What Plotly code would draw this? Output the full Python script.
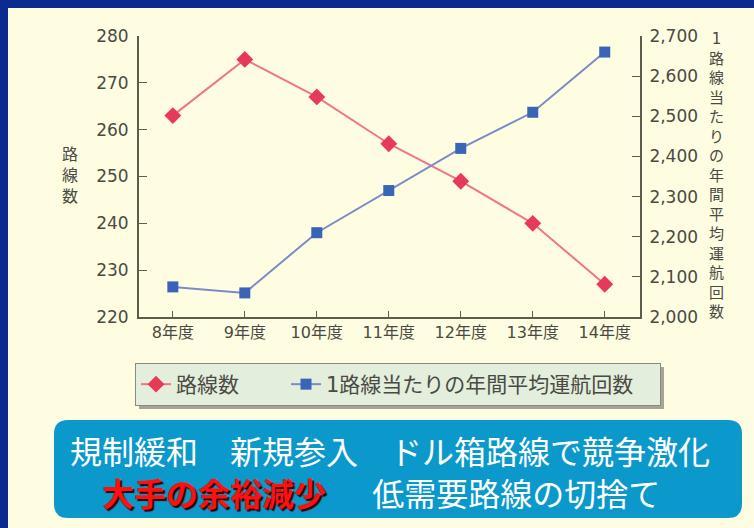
import plotly.graph_objects as go

W, H = 754, 528
ML, MR, MT, MB = 139, 114, 36, 211
PW, PH = W - ML - MR, H - MT - MB

def px(x):
    return (x - ML) / PW

def py(y):
    return (H - MB - y) / PH

years = ["8年度", "9年度", "10年度", "11年度", "12年度", "13年度", "14年度"]
routes = [263, 275, 267, 257, 249, 240, 227]
flights = [2075, 2060, 2210, 2315, 2420, 2510, 2660]
left_ticks = [220, 230, 240, 250, 260, 270, 280]
right_ticks = [2000, 2100, 2200, 2300, 2400, 2500, 2600, 2700]
name_routes = "路線数"
name_flights = "1路線当たりの年間平均運航回数"
left_title = "路線数"
right_title = "1路線当たりの年間平均運航回数"
line1 = "規制緩和　新規参入　ドル箱路線で競争激化"
line2_red = "大手の余裕減少"
line2_white = "低需要路線の切捨て"

NAVY = "#0b2b8f"
CREAM = "#fefde1"
AXC = "#5c5c4c"
TXT = "#4a4a44"
FONT = "DejaVu Sans, Noto Sans CJK JP"

fig = go.Figure()
fig.add_trace(go.Scatter(
    x=years, y=routes, name=name_routes + "　　",
    mode="lines+markers",
    line=dict(color="#f07585", width=2),
    marker=dict(symbol="diamond", size=13, color="#e63a58"),
    yaxis="y"))
fig.add_trace(go.Scatter(
    x=years, y=flights, name=name_flights + "　",
    mode="lines+markers",
    line=dict(color="#7a8cc8", width=2),
    marker=dict(symbol="square", size=11, color="#3a64b6"),
    yaxis="y2"))

shapes = [
    dict(type="rect", xref="paper", yref="paper", x0=px(0), x1=px(W), y0=py(0), y1=py(H),
         fillcolor=NAVY, line=dict(width=0), layer="below"),
    dict(type="rect", xref="paper", yref="paper", x0=px(8), x1=px(W), y0=py(8), y1=py(H),
         fillcolor=CREAM, line=dict(width=0), layer="below"),
    # legend shadow
    dict(type="rect", xref="paper", yref="paper", x0=px(139), x1=px(664), y0=py(367), y1=py(409),
         fillcolor="#a4a498", line=dict(width=0), layer="below"),
]

# rounded blue box
bx0, bx1, by0, by1, r = 54, 742, 420, 518, 14
pts = [
    f"M {px(bx0 + r)},{py(by0)}",
    f"L {px(bx1 - r)},{py(by0)}",
    f"Q {px(bx1)},{py(by0)} {px(bx1)},{py(by0 + r)}",
    f"L {px(bx1)},{py(by1 - r)}",
    f"Q {px(bx1)},{py(by1)} {px(bx1 - r)},{py(by1)}",
    f"L {px(bx0 + r)},{py(by1)}",
    f"Q {px(bx0)},{py(by1)} {px(bx0)},{py(by1 - r)}",
    f"L {px(bx0)},{py(by0 + r)}",
    f"Q {px(bx0)},{py(by0)} {px(bx0 + r)},{py(by0)}",
    "Z",
]
shapes.append(dict(type="path", xref="paper", yref="paper", path=" ".join(pts),
                   fillcolor="#0b99cc", line=dict(width=0), layer="above"))

box_text = (line1 + "<br>　" +
            '<span style="color:#ff1010;font-weight:bold;text-shadow:2px 2px 1px #300000">'
            + line2_red + "</span>　  " + line2_white)

annotations = [
    dict(text="<br>".join(left_title), xref="paper", yref="paper", x=px(70), y=py(175),
         xanchor="center", yanchor="middle", showarrow=False,
         font=dict(family=FONT, size=16, color=TXT)),
    dict(text="<br>".join(right_title), xref="paper", yref="paper", x=px(716), y=py(175),
         xanchor="center", yanchor="middle", showarrow=False,
         font=dict(family=FONT, size=15, color=TXT)),
    dict(text=box_text, xref="paper", yref="paper", x=px(68), y=py(471), align="left",
         xanchor="left", yanchor="middle", showarrow=False,
         font=dict(family="Noto Sans CJK JP", size=32, color="white")),
]

fig.update_layout(
    width=W, height=H,
    margin=dict(l=ML, r=MR, t=MT, b=MB),
    paper_bgcolor=CREAM, plot_bgcolor=CREAM,
    font=dict(family=FONT, color=TXT),
    showlegend=True,
    legend=dict(orientation="h", x=px(135), y=py(363), xanchor="left", yanchor="top",
                bgcolor="#e3eedc", bordercolor="#8a8a80", borderwidth=1,
                font=dict(family=FONT, size=21, color=TXT)),
    xaxis=dict(range=[-0.47, 6.49], showline=True, linecolor=AXC, linewidth=2,
               ticks="inside", ticklen=6, tickcolor=AXC, showgrid=False, zeroline=False,
               tickfont=dict(family=FONT, size=16, color=TXT)),
    yaxis=dict(range=[220, 280], tickvals=left_ticks, showline=True, linecolor=AXC, linewidth=2,
               ticks="inside", ticklen=8, tickcolor=AXC, showgrid=False, zeroline=False,
               tickfont=dict(family=FONT, size=17, color=TXT), ticklabelstandoff=5),
    yaxis2=dict(range=[2000, 2700], tickvals=right_ticks, tickformat=",d", overlaying="y",
                side="right", showline=True, linecolor=AXC, linewidth=2,
                ticks="inside", ticklen=8, tickcolor=AXC, showgrid=False, zeroline=False,
                tickfont=dict(family=FONT, size=17, color=TXT), ticklabelstandoff=4),
    shapes=shapes,
    annotations=annotations,
)

fig.write_html("out.html")
